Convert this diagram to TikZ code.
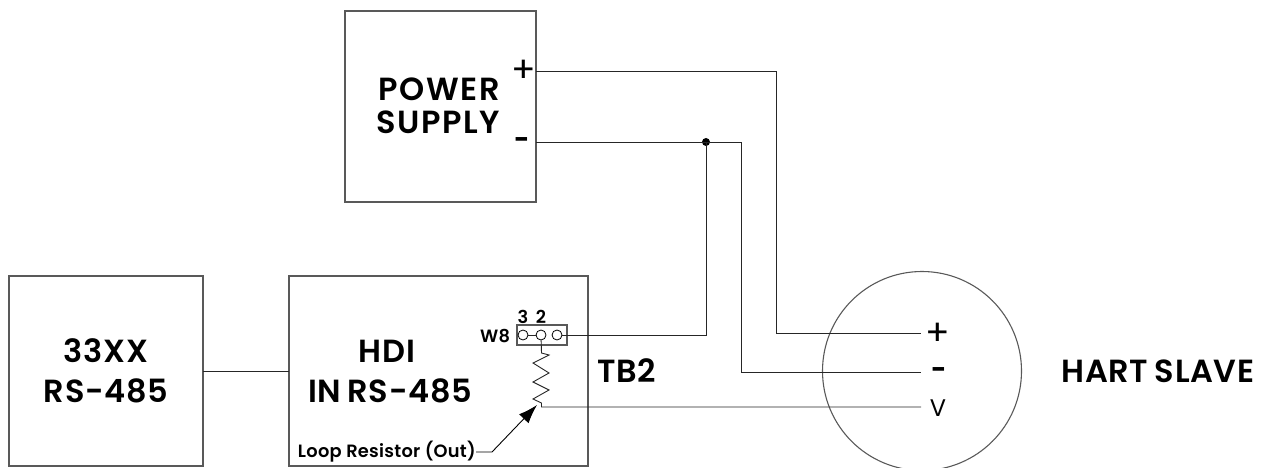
\documentclass[tikz,border=0pt]{standalone}
\usepackage{fontspec}
\setmainfont{Poppins}
\newfontfamily\semifont[LetterSpace=2,WordSpace=0.8]{Poppins SemiBold}
\newfontfamily\semifontwide[LetterSpace=5,WordSpace=0.5]{Poppins SemiBold}
\newfontfamily\semifontsmall[LetterSpace=1.5]{Poppins SemiBold}
\usetikzlibrary{arrows.meta}
\definecolor{boxgray}{gray}{0.35}
\tikzset{
  x=1pt,y=-1pt,
  wire/.style={line width=0.9pt,black!85},
  boxline/.style={draw=boxgray,line width=1.1pt},
  biglabel/.style={font=\fontsize{32}{32}\selectfont\semifont,inner sep=0pt,text=black},
  widelabel/.style={font=\fontsize{32}{32}\selectfont\semifontwide,inner sep=0pt,text=black},
  termlabel/.style={font=\fontsize{36}{36}\selectfont,inner sep=0pt,text=black},
  dashlabel/.style={font=\fontsize{26}{26}\selectfont\bfseries,inner sep=0pt,text=black},
  smalllabel/.style={font=\fontsize{17.8}{17.8}\selectfont\semifontsmall,inner sep=0pt,text=black},
  pin/.style={circle,draw=black,line width=0.8pt,minimum size=10pt,inner sep=0pt},
  pointer/.style={line width=0.9pt,-{Latex[length=19pt,width=13pt]}},
}
\begin{document}
\begin{tikzpicture}
\useasboundingbox (0,0) rectangle (1271,468);
% boxes
\path[boxline] (345,11) rectangle (536,202);
\path[boxline] (9,276) rectangle (203,466);
\path[boxline] (289,276) rectangle (588,466);
\path[boxline] (517,325) rectangle (567,345);
\node[circle,draw=boxgray,line width=1.1pt,minimum size=199pt,inner sep=0pt] (slave) at (922,371) {};
% box anchors
\coordinate (psplus) at (536,71);
\coordinate (psminus) at (536,142);
\coordinate (cEast) at (203,371);
\coordinate (hWest) at (289,371);
% labels
\node[widelabel] (l1) at (439,89) {POWER};
\node[widelabel] (l2) at (438,122) {SUPPLY};
\node[biglabel] (l3) at (106,351) {33XX};
\node[biglabel] (l4) at (106,391) {RS-485};
\node[biglabel] (l5) at (387,351) {HDI};
\node[biglabel] (l6) at (390,391) {IN RS-485};
\node[biglabel] (l7) at (627,371) {TB2};
\node[biglabel] (l8) at (1158,371) {HART SLAVE};
\node[smalllabel] (w8) at (495,336) {W8};
\node[smalllabel] (j3) at (523,317) {3};
\node[smalllabel] (j2) at (541,317) {2};
\node[smalllabel,anchor=east] (loop) at (476,452) {Loop Resistor (Out)};
\node[termlabel] (tp) at (524,71) {+};
\node[dashlabel] (tm) at (522,143) {-};
\node[termlabel] (sp) at (938,334) {+};
\node[dashlabel] (sm) at (939,373) {-};
\node[termlabel,font=\fontsize{24}{24}\selectfont] (sv) at (938,408) {V};
% pins
\node[pin] (p3) at (523,335) {};
\node[pin] (p2) at (541,335) {};
\node[pin] (p1) at (557,335) {};
% junction
\coordinate (junc) at (706,142);
\fill (junc) circle (4pt);
\coordinate (splus) at (921,333);
\coordinate (sminus) at (921,372);
\coordinate (sv0) at (921,407);
% wires
\draw[wire] (cEast) -- (hWest);
\draw[wire] (psplus) -- (776,71) |- (splus);
\draw[wire] (psminus) -- (741,142) |- (sminus);
\draw[wire] (junc) |- (p1);
\draw[wire] (p3) -- (p2);
\draw[wire] (p2) -- (541.5,353) -- (549,355) -- (533,363) -- (549,373) -- (533,382) -- (549,390) -- (533,399) -- (541.5,403) -- (541.5,407) -- (sv0);
\coordinate (tip) at (537,405);
\draw[pointer] (loop.east) -- (492,452) -- (tip);
\end{tikzpicture}
\end{document}
